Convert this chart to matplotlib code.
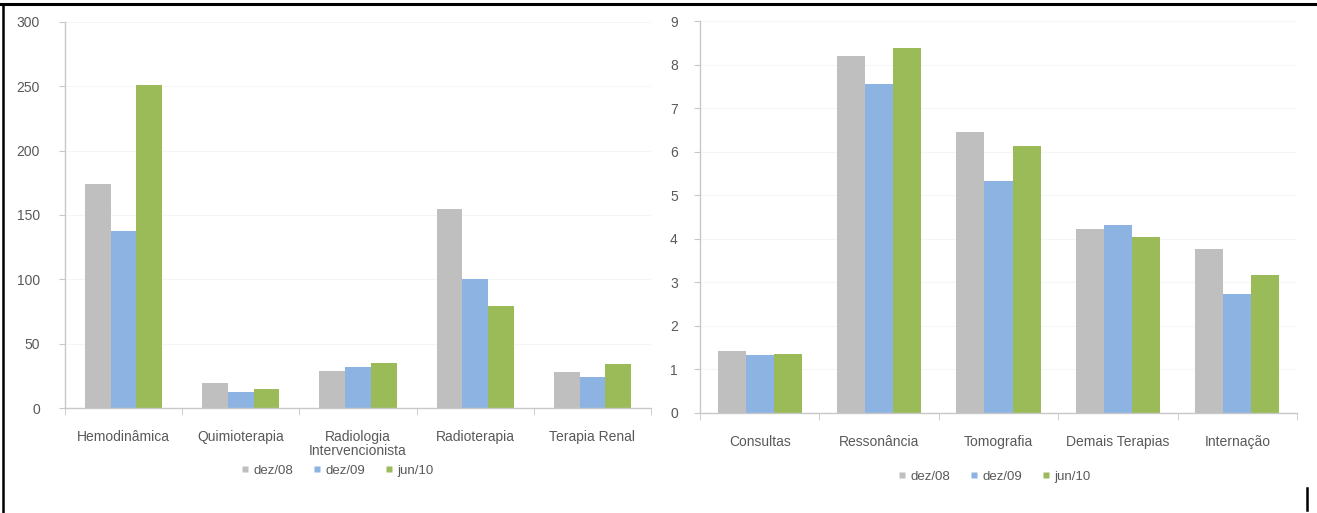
import matplotlib
matplotlib.use("Agg")
import matplotlib.pyplot as plt
import numpy as np
from matplotlib.lines import Line2D

plt.rcParams['font.family'] = ['Liberation Sans', 'DejaVu Sans']

series_labels = ["dez/08", "dez/09", "jun/10"]
series_colors = ["#BFBFBF", "#8DB3E2", "#9BBB59"]

left_categories = ["Hemodinâmica", "Quimioterapia", "Radiologia\nIntervencionista", "Radioterapia", "Terapia Renal"]
left_dez08 = [174, 19.7, 29, 155, 28.2]
left_dez09 = [137.6, 12.2, 32, 100, 24.3]
left_jun10 = [251, 14.5, 34.7, 79.3, 34.2]

right_categories = ["Consultas", "Ressonância", "Tomografia", "Demais Terapias", "Internação"]
right_dez08 = [1.42, 8.19, 6.46, 4.22, 3.76]
right_dez09 = [1.33, 7.55, 5.33, 4.32, 2.74]
right_jun10 = [1.35, 8.37, 6.13, 4.04, 3.17]

W, H = 1317, 513
fig = plt.figure(figsize=(W / 100, H / 100), dpi=100)
fig.patch.set_facecolor("white")

text_col = "#595959"
axis_col = "#C8C8C8"


def px_axes(x0, y_top, x1, y_bot):
    return fig.add_axes([x0 / W, 1 - y_bot / H, (x1 - x0) / W, (y_bot - y_top) / H])


def draw_panel(ax, cats, series, ymax, ystep, bar_w, legend_xy, xlab_pad, ylab_pad):
    x = np.arange(len(cats))
    for i, vals in enumerate(series):
        ax.bar(x + (i - 1) * bar_w, vals, width=bar_w, color=series_colors[i],
               edgecolor="none", zorder=2)
    ax.set_xlim(-0.5, len(cats) - 0.5)
    ax.set_ylim(0, ymax)
    ax.set_yticks(np.arange(0, ymax + ystep / 2, ystep))
    ax.set_xticks(x)
    ax.set_xticklabels(cats, fontsize=10, color=text_col, linespacing=1.0)
    ax.set_xticks(np.arange(-0.5, len(cats)), minor=True)
    ax.tick_params(axis="x", which="major", length=0, pad=xlab_pad)
    ax.tick_params(axis="x", which="minor", length=5, color=axis_col, direction="out")
    ax.tick_params(axis="y", length=4, color=axis_col, labelsize=10,
                   labelcolor=text_col, pad=ylab_pad)
    for s in ["top", "right"]:
        ax.spines[s].set_visible(False)
    for s in ["left", "bottom"]:
        ax.spines[s].set_color(axis_col)
        ax.spines[s].set_linewidth(1.0)
    ax.grid(axis="y", color="#F5F5F5", linewidth=0.8, zorder=0)
    ax.set_axisbelow(True)
    handles = [Line2D([], [], marker="s", linestyle="none", markersize=5,
                      markerfacecolor=c, markeredgecolor="none") for c in series_colors]
    ax.legend(handles, series_labels, loc="center", bbox_to_anchor=legend_xy,
              ncol=3, frameon=False, fontsize=9.5, handletextpad=0.15,
              columnspacing=1.3, handlelength=1.0, labelcolor=text_col,
              borderaxespad=0)


ax1 = px_axes(65, 22, 651, 408)
draw_panel(ax1, left_categories, [left_dez08, left_dez09, left_jun10],
           300, 50, 0.22, (0.462, -0.162), 16, 14)

ax2 = px_axes(700, 21, 1297, 413)
draw_panel(ax2, right_categories, [right_dez08, right_dez09, right_jun10],
           9, 1, 0.235, (0.491, -0.163), 16, 12)

# page frame around the figure
fig.add_artist(Line2D([0, 1], [1 - 4 / H, 1 - 4 / H], color="black", linewidth=2.2))
fig.add_artist(Line2D([3.5 / W, 3.5 / W], [0, 1 - 4 / H], color="black", linewidth=1.8))
fig.add_artist(Line2D([1307 / W, 1307 / W], [1 - 488 / H, 1 - 510 / H], color="black", linewidth=1.8))

fig.savefig("out.png", dpi=100)
